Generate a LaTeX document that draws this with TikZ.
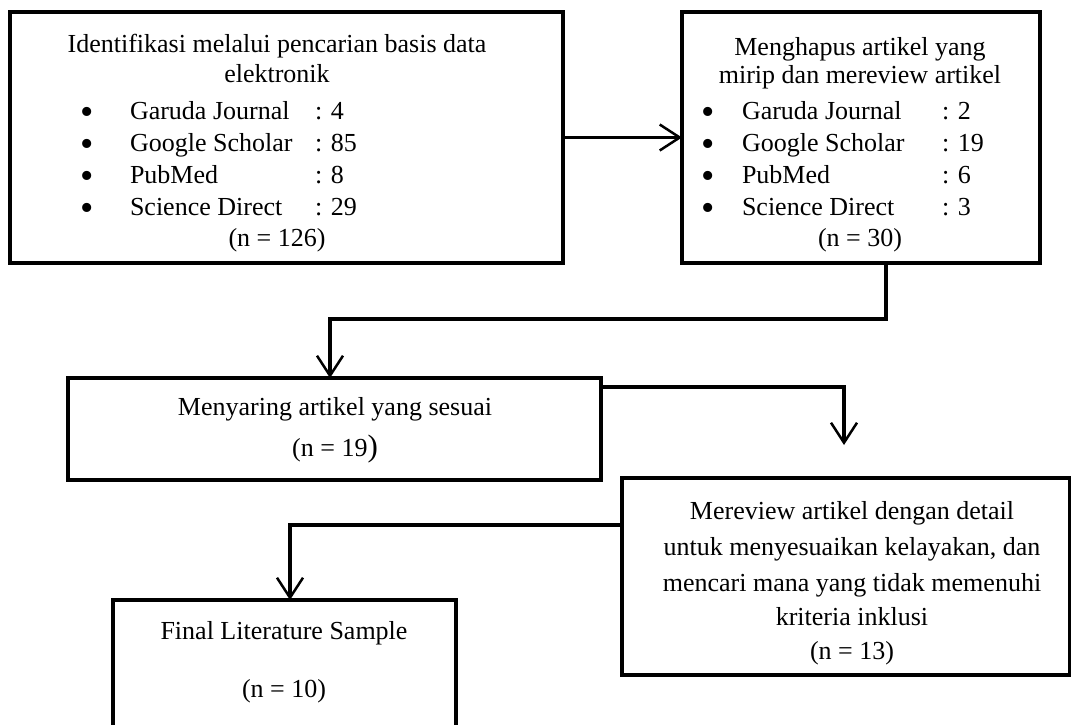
\documentclass[tikz,border=0pt]{standalone}
\usepackage{fontspec}
\setmainfont{Liberation Serif}
\usetikzlibrary{arrows.meta}
\begin{document}
\begin{tikzpicture}[x=1pt,y=-1pt,
  box/.style={draw, line width=4.5pt, inner sep=0pt, outer sep=0pt, anchor=north west},
  txt/.style={inner sep=0pt, outer sep=0pt, anchor=base, font=\fontsize{26}{32}\selectfont},
  txtl/.style={txt, anchor=base west},
  bul/.style={inner sep=0pt, outer sep=0pt, anchor=base, font=\fontsize{38}{38}\selectfont},
  conn/.style={line width=4pt, -{Straight Barb[length=20pt, width=26pt, line width=2.5pt]}},
  connthin/.style={line width=2.8pt, -{Straight Barb[length=20pt, width=26pt, line width=2.5pt]}}]
\useasboundingbox (0,0) rectangle (1071,725);
\fill[white] (0,0) rectangle (1071,725);

% boxes
\node[box, minimum width=553pt, minimum height=251pt] (b1) at (10,12) {};
\node[box, minimum width=358pt, minimum height=251pt] (b2) at (682,12) {};
\node[box, minimum width=533pt, minimum height=102pt] (b3) at (68,378) {};
\node[box, minimum width=448pt, minimum height=197pt] (b4) at (622,478) {};
\node[box, minimum width=343pt, minimum height=170pt] (b5) at (113,600) {};

% box 1 text
\node[txt] (t1a) at (277,53) {Identifikasi melalui pencarian basis data};
\node[txt] (t1b) at (277,83) {elektronik};
\foreach \y/\lab/\val [count=\i] in {119/Garuda Journal/4, 151/Google Scholar/85, 183/PubMed/8, 215/Science Direct/29}{
  \node[bul] (p1\i) at (87,\y+5) {•};
  \node[txtl] (l1\i) at (130,\y) {\lab};
  \node[txtl] (v1\i) at (315,\y) {: \val};
}
\node[txt] (n1) at (277,246) {(n = 126)};

% box 2 text
\node[txt] (t2a) at (860,56) {Menghapus artikel yang};
\node[txt] (t2b) at (860,84) {mirip dan mereview artikel};
\foreach \y/\lab/\val [count=\i] in {119/Garuda Journal/2, 151/Google Scholar/19, 183/PubMed/6, 215/Science Direct/3}{
  \node[bul] (p2\i) at (708,\y+5) {•};
  \node[txtl] (l2\i) at (742,\y) {\lab};
  \node[txtl] (v2\i) at (942,\y) {: \val};
}
\node[txt] (n2) at (860,246) {(n = 30)};

% box 3 text
\node[txt] (t3a) at (335,415) {Menyaring artikel yang sesuai};
\node[txt] (n3) at (335,456) {(n = 19{\fontsize{31}{32}\selectfont)}};

% box 4 text
\node[txt] (t4a) at (852,519) {Mereview artikel dengan detail};
\node[txt] (t4b) at (852,555) {untuk menyesuaikan kelayakan, dan};
\node[txt] (t4c) at (852,591) {mencari mana yang tidak memenuhi};
\node[txt] (t4d) at (852,625) {kriteria inklusi};
\node[txt] (n4) at (852,659) {(n = 13)};

% box 5 text
\node[txt] (t5a) at (284,639) {Final Literature Sample};
\node[txt] (n5) at (284,697) {(n = 10)};

% connectors
\coordinate (k1) at (886,319);
\coordinate (k2) at (330,319);
\coordinate (k3) at (844,387);
\coordinate (t3) at (844,445);
\coordinate (k4) at (290,525);

\draw[connthin] (b1.east) -- (b2.west);
\draw[conn] (b2.south -| k1) -- (k1) -- (k2) -- (k2 |- b3.north);
\draw[conn] (k3 -| b3.east) -- (k3) -- (t3);
\draw[conn] (k4 -| b4.west) -- (k4) -- (k4 |- b5.north);
\end{tikzpicture}
\end{document}
